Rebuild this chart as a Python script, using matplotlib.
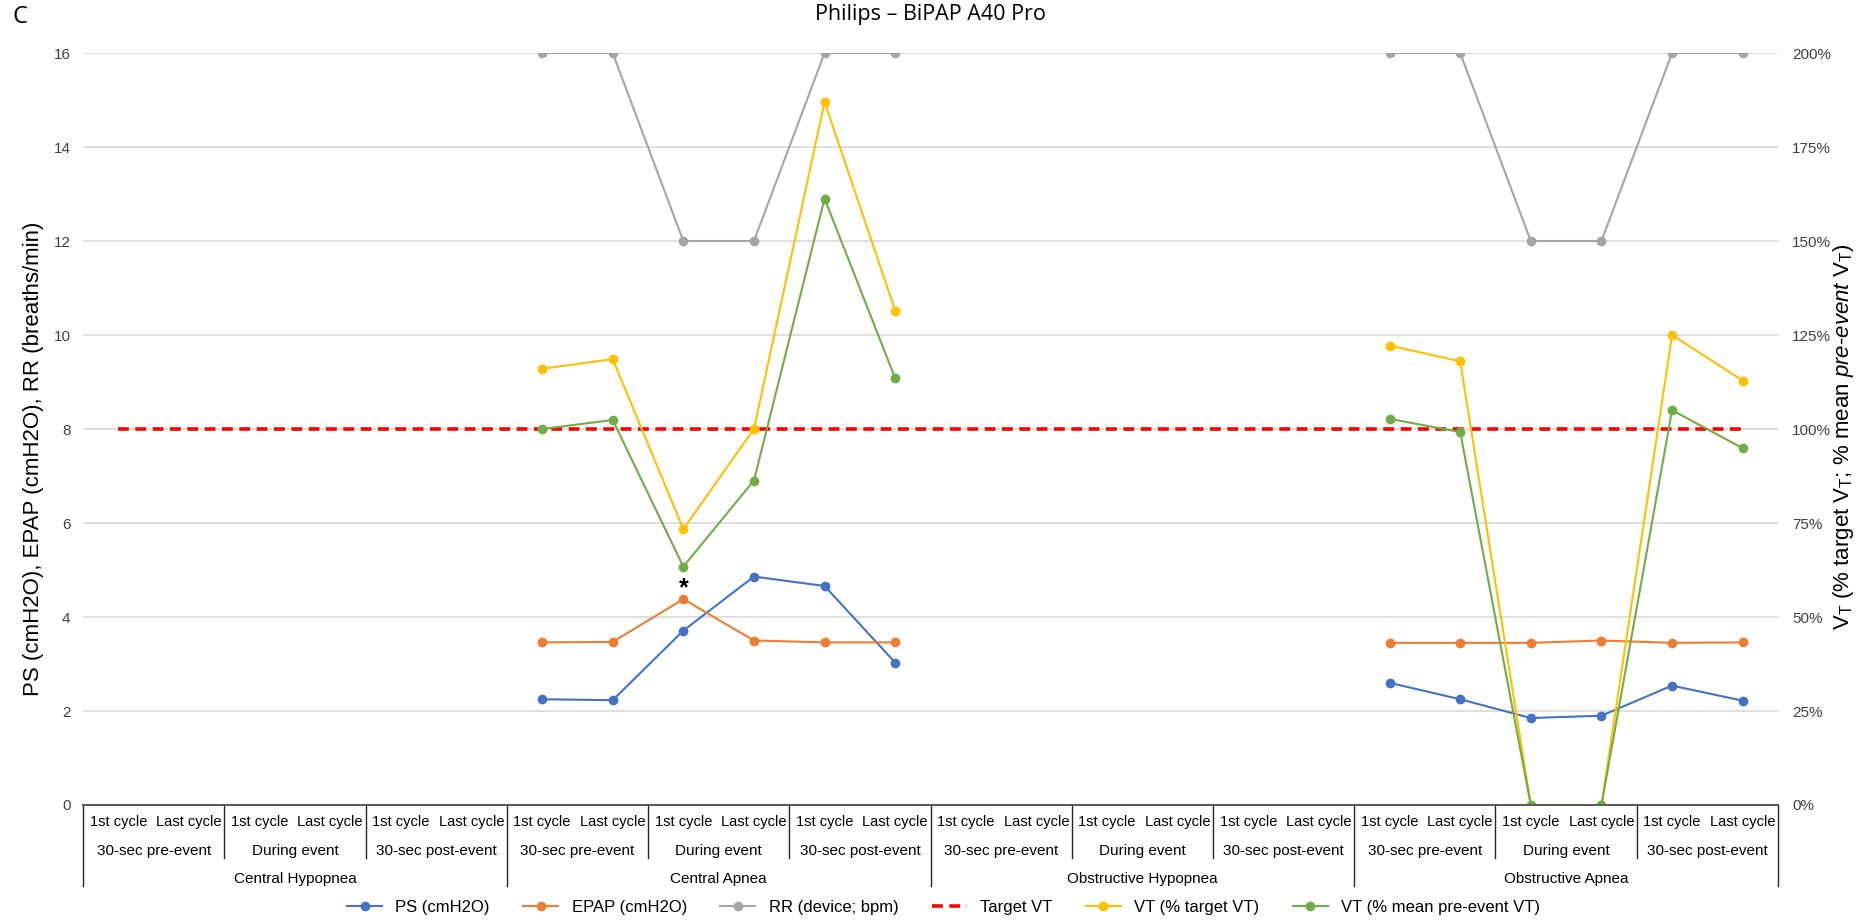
import numpy as np
import matplotlib
matplotlib.use("Agg")
import matplotlib.pyplot as plt
import matplotlib.transforms as mtransforms

plt.rcParams["font.family"] = ["Liberation Sans", "DejaVu Sans"]
plt.rcParams["mathtext.fontset"] = "custom"
plt.rcParams["mathtext.rm"] = "Liberation Sans"
plt.rcParams["mathtext.it"] = "Liberation Sans:italic"

# Category levels of the x axis
events = ["Central Hypopnea", "Central Apnea", "Obstructive Hypopnea", "Obstructive Apnea"]
phases = ["30-sec pre-event", "During event", "30-sec post-event"]
cycles = ["1st cycle", "Last cycle"]

nan = np.nan
# Left axis series (24 points: 4 events x 3 phases x 2 cycles)
ps = [nan] * 6 + [2.25, 2.23, 3.71, 4.86, 4.66, 3.03] + [nan] * 6 + [2.60, 2.25, 1.85, 1.90, 2.54, 2.22]
epap = [nan] * 6 + [3.46, 3.47, 4.38, 3.50, 3.46, 3.46] + [nan] * 6 + [3.45, 3.45, 3.45, 3.50, 3.45, 3.46]
rr = [nan] * 6 + [16, 16, 12, 12, 16, 16] + [nan] * 6 + [16, 16, 12, 12, 16, 16]
# Right axis series (%)
target_vt = [100] * 24
vt_target = [nan] * 6 + [116.0, 118.6, 73.4, 100.0, 187.0, 131.5] + [nan] * 6 + [122.2, 118.0, 0, 0, 125.0, 112.9]
vt_mean = [nan] * 6 + [100.0, 102.4, 63.4, 86.3, 161.3, 113.5] + [nan] * 6 + [102.7, 99.2, 0, 0, 105.0, 94.9]

x = np.arange(24)

fig = plt.figure(figsize=(18.61, 9.22), dpi=100)
ax = fig.add_axes([0.0446, 0.1269, 0.9108, 0.8156])
ax2 = ax.twinx()

lw = 1.5
ms = 6
h_ps, = ax.plot(x, ps, "-o", color="#4472C4", lw=lw, ms=ms, label="PS (cmH2O)")
h_epap, = ax.plot(x, epap, "-o", color="#ED7D31", lw=lw, ms=ms, label="EPAP (cmH2O)")
h_rr, = ax.plot(x, rr, "-o", color="#A5A5A5", lw=lw, ms=ms, label="RR (device; bpm)")
h_tgt, = ax2.plot(x, target_vt, "--", color="#FF0000", lw=2.6, dashes=(3, 1.8), label="Target VT")
h_vtt, = ax2.plot(x, vt_target, "-o", color="#FFC000", lw=lw, ms=ms, label="VT (% target VT)")
h_vtm, = ax2.plot(x, vt_mean, "-o", color="#70AD47", lw=lw, ms=ms, label="VT (% mean pre-event VT)")

ax.text(8, 4.62, "*", ha="center", va="center", fontsize=18, fontweight="bold")

ax.set_xlim(-0.5, 23.5)
ax.set_ylim(0, 16)
ax2.set_ylim(0, 200)
ax.set_yticks(np.arange(0, 17, 2))
ax2.set_yticks(np.arange(0, 201, 25))
ax2.set_yticklabels([f"{v}%" for v in range(0, 201, 25)])
ax.set_xticks([])
ax.yaxis.grid(True, color="#D9D9D9", lw=1.2)
ax.set_axisbelow(True)
for a in (ax, ax2):
    for s in ("top", "left", "right"):
        a.spines[s].set_visible(False)
    a.spines["bottom"].set_color("#595959")
    a.spines["bottom"].set_linewidth(1.3)
    a.tick_params(axis="y", length=0, labelsize=11, colors="#404040", pad=9)
ax2.tick_params(axis="y", pad=10)

ax.set_ylabel("PS (cmH2O), EPAP (cmH2O), RR (breaths/min)", fontsize=16)
ax.yaxis.set_label_coords(-0.023, 0.46)
ax2.set_ylabel(r"V$_\mathrm{T}$ (% target V$_\mathrm{T}$; % mean $\mathit{pre}$-$\mathit{event}$ V$_\mathrm{T}$)",
               fontsize=16)
ax2.yaxis.set_label_coords(1.031, 0.49)

fig.text(0.5, 0.984, "Philips \u2013 BiPAP A40 Pro", ha="center", va="center", fontsize=15.5,
         family=["Open Sans", "DejaVu Sans"])
fig.text(0.0065, 0.982, "C", ha="left", va="center", fontsize=17, family=["Open Sans", "DejaVu Sans"])

# Multi-level category table under the axis
tr = mtransforms.blended_transform_factory(ax.transData, ax.transAxes)
y_cyc, y_ph, y_ev = -0.022, -0.061, -0.099
for i in range(24):
    ax.text(x[i], y_cyc, cycles[i % 2], transform=tr, ha="center", va="center", fontsize=10.5)
for j in range(12):
    ax.text(2 * j + 0.5, y_ph, phases[j % 3], transform=tr, ha="center", va="center", fontsize=11)
for k in range(4):
    ax.text(6 * k + 2.5, y_ev, events[k], transform=tr, ha="center", va="center", fontsize=11)
for j in range(13):
    xb = 2 * j - 0.5
    bottom = -0.108 if j % 3 == 0 else -0.070
    ax.plot([xb, xb], [0, bottom], transform=tr, color="#262626", lw=1, clip_on=False)

fig.legend(handles=[h_ps, h_epap, h_rr, h_tgt, h_vtt, h_vtm], loc="center",
           bbox_to_anchor=(0.507, 0.016), ncol=6, frameon=False, fontsize=12,
           handlelength=2.1, columnspacing=2.0)

fig.savefig("out.png", dpi=100)
